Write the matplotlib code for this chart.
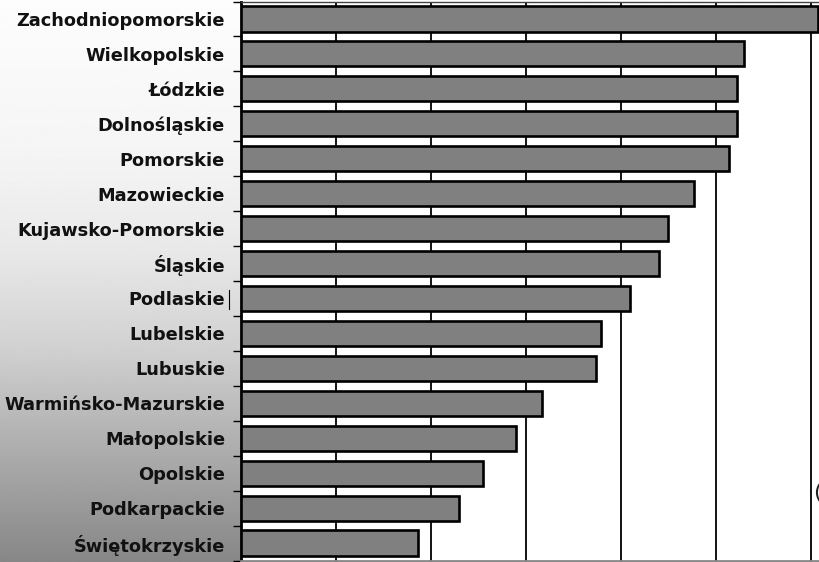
import numpy as np
import matplotlib.pyplot as plt
from matplotlib.lines import Line2D

# Województwa, od najdłuższego słupka
regiony = ['Zachodniopomorskie', 'Wielkopolskie', 'Łódzkie', 'Dolnośląskie',
           'Pomorskie', 'Mazowieckie', 'Kujawsko-Pomorskie', 'Śląskie',
           'Podlaskie', 'Lubelskie', 'Lubuskie', 'Warmińsko-Mazurskie',
           'Małopolskie', 'Opolskie', 'Podkarpackie', 'Świętokrzyskie']
wartosci = [6.07, 5.29, 5.22, 5.22, 5.14, 4.77, 4.49, 4.40,
            4.10, 3.79, 3.74, 3.17, 2.90, 2.55, 2.30, 1.86]

# kolory gradientu tła (góra -> dół)
tlo_y = [0.0, 0.27, 0.45, 0.62, 0.80, 1.0]
tlo_jasnosc = [0.99, 0.96, 0.91, 0.82, 0.68, 0.53]

fig = plt.figure(figsize=(8.2, 5.62), dpi=100)

# tło z gradientem
ax_tlo = fig.add_axes([0, 0, 1, 1], zorder=-1)
yy = np.linspace(0, 1, 300)
grad = np.interp(yy, tlo_y, tlo_jasnosc)
ax_tlo.imshow(grad[:, None], aspect='auto', cmap='gray', vmin=0, vmax=1,
              extent=[0, 1, 1, 0])
ax_tlo.set_xlim(0, 1)
ax_tlo.set_ylim(1, 0)
ax_tlo.axis('off')

ax = fig.add_axes([241/820, 1.5/562, 1 - 241/820, 559/562])
ax.set_facecolor('white')

pozycje = np.arange(len(regiony))
ax.barh(pozycje, wartosci, height=0.72, color='#808080',
        edgecolor='black', linewidth=1.9, zorder=3)

ax.set_xlim(0, 6.095)
ax.set_ylim(len(regiony) - 0.5, -0.5)

# siatka pionowa
ax.set_xticks(np.arange(0, 7, 1))
ax.set_xticklabels([])
ax.tick_params(axis='x', length=0)
ax.grid(axis='x', color='black', lw=1.3, zorder=1)

# znaczniki osi Y na granicach kategorii, etykiety pośrodku
ax.set_yticks(np.arange(-0.5, len(regiony), 1))
ax.set_yticklabels([])
ax.tick_params(axis='y', which='major', length=6, width=1.0, direction='out')
ax.set_yticks(pozycje, minor=True)
ax.set_yticklabels(regiony, minor=True, fontsize=12.8, fontweight='bold',
                   color='#111111')
ax.tick_params(axis='y', which='minor', length=0, pad=11.5)

ax.spines['left'].set_linewidth(2)
ax.spines['right'].set_visible(False)
ax.spines['top'].set_linewidth(1)
ax.spines['top'].set_color('#444444')
ax.spines['bottom'].set_linewidth(2)
ax.spines['bottom'].set_color('#888888')

# kursor tekstowy za "Podlaskie" i ucięty znak po prawej
fig.add_artist(Line2D([228.5/820, 228.5/820], [1 - 290/562, 1 - 309/562],
                      color='black', lw=0.8))
fig.text(813/820, 1 - 493/562, '(', fontsize=16, va='center', ha='left',
         color='#222222')

fig.savefig('out.png', dpi=100)
